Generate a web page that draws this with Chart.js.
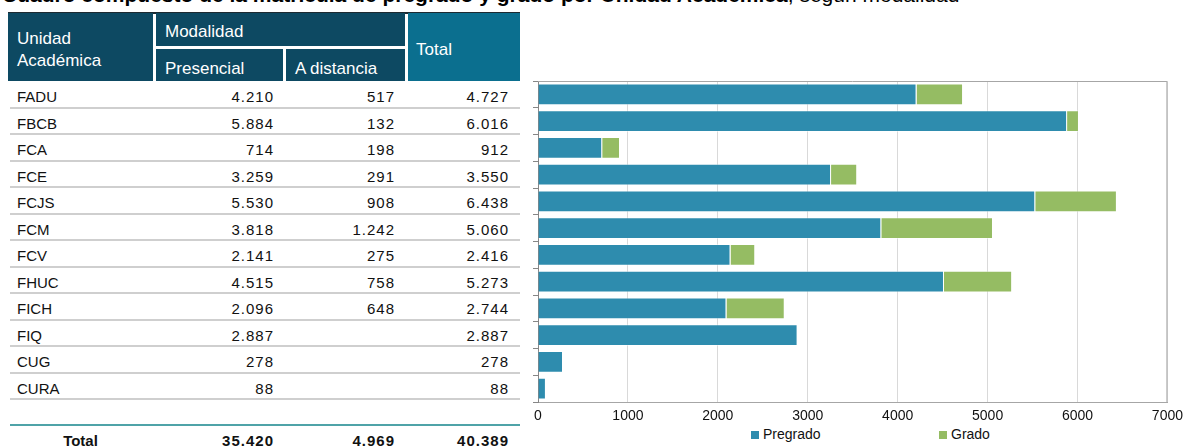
<!DOCTYPE html>
<html>
<head>
<meta charset="utf-8">
<script src="https://cdn.jsdelivr.net/npm/chart.js@4/dist/chart.umd.min.js"></script>
<style>
  body { margin: 0; width: 1189px; height: 447px; overflow: hidden; position: relative; background: #fff; font-family: "Liberation Sans", Arial, sans-serif; }
  .abs { position: absolute; white-space: nowrap; }
  .hd { position: absolute; background: #0d4962; }
  .hd.total { background: #0b6f8f; }
  .ht { position: absolute; color: #fff; font-size: 17px; line-height: 20px; white-space: nowrap; }
  .cell { position: absolute; font-size: 15px; line-height: 26.5px; color: #111; white-space: nowrap; }
  .num { letter-spacing: 1px; text-align: right; }
  .rowline { position: absolute; left: 10px; width: 510px; height: 2px; background: #cfcfcf; }
  .tot { font-weight: bold; }
  #legend { position: absolute; top: 425px; left: 0; width: 1189px; height: 18px; font-size: 14px; }
  .lg { position: absolute; top: 0; line-height: 18px; color: #111; }
  .lg i { display: inline-block; width: 8px; height: 8px; margin-right: 4px; vertical-align: 0px; }
</style>
</head>
<body>
<div class="abs" style="top:-17px;left:2px;font-size:21px;"><b>Cuadro compuesto de la matrícula de pregrado y grado por Unidad Académica</b>, según modalidad</div>
<div id="table"></div>
<canvas id="chart" width="661" height="347" style="position:absolute;left:528px;top:78px;"></canvas>
<div id="legend"></div>
<script>
// data
const unidades = ["FADU", "FBCB", "FCA", "FCE", "FCJS", "FCM", "FCV", "FHUC", "FICH", "FIQ", "CUG", "CURA"];
const presencial = [4210, 5884, 714, 3259, 5530, 3818, 2141, 4515, 2096, 2887, 278, 88];
const aDistancia = [517, 132, 198, 291, 908, 1242, 275, 758, 648, null, null, null];
const seriesNames = ["Pregrado", "Grado"];
const seriesColors = ["#2e8cae", "#95bc63"];
const xTicks = [0, 1000, 2000, 3000, 4000, 5000, 6000, 7000];

function fmt(n) {
  if (n === null || n === undefined) return "";
  return String(n).replace(/\B(?=(\d{3})+(?!\d))/g, ".");
}

// table
const tbl = document.getElementById("table");
function add(cls, style, text) {
  const d = document.createElement("div");
  d.className = cls;
  d.setAttribute("style", style);
  if (text !== undefined) d.textContent = text;
  tbl.appendChild(d);
  return d;
}
add("abs", "left:8px;top:12px;width:512px;height:2px;background:#1d2a31;");
add("hd", "left:8px;top:13px;width:145px;height:68px;");
add("hd", "left:156px;top:13px;width:249px;height:33px;");
add("hd", "left:156px;top:49px;width:127px;height:32px;");
add("hd", "left:286px;top:49px;width:119px;height:32px;");
add("hd total", "left:408px;top:13px;width:112px;height:68px;");
add("ht", "left:17px;top:29px;", "Unidad");
add("ht", "left:17px;top:51px;", "Académica");
add("ht", "left:165px;top:22px;", "Modalidad");
add("ht", "left:165px;top:59px;", "Presencial");
add("ht", "left:295px;top:59px;", "A distancia");
add("ht", "left:416px;top:40px;", "Total");

const rowH = 26.5;
const colRight = [273, 394, 508];
unidades.forEach((u, i) => {
  const top = 81 + rowH * i;
  const tot = presencial[i] + (aDistancia[i] || 0);
  add("cell", `left:17px;top:${top + 3}px;`, u);
  [presencial[i], aDistancia[i], tot].forEach((v, j) => {
    add("cell num", `right:${1189 - colRight[j] - 1}px;top:${top + 3}px;`, fmt(v));
  });
  add("rowline", `top:${top + rowH - 1}px;`);
});
add("abs", "left:10px;top:424px;width:510px;height:2px;background:#4fa3a8;");
const sumP = presencial.reduce((a, b) => a + b, 0);
const sumD = aDistancia.reduce((a, b) => a + (b || 0), 0);
add("cell tot", "left:8px;width:145px;text-align:center;top:427.5px;", "Total");
[sumP, sumD, sumP + sumD].forEach((v, j) => {
  add("cell num tot", `right:${1189 - colRight[j] - 1}px;top:427.5px;`, fmt(v));
});

// frame around plot area (top and right edges)
const frame = {
  id: "frame",
  afterDraw(chart) {
    const { ctx, chartArea: a } = chart;
    ctx.save();
    ctx.strokeStyle = "#a6a6a6";
    ctx.lineWidth = 1;
    ctx.beginPath();
    ctx.moveTo(a.left, a.top + 0.5);
    ctx.lineTo(a.right - 0.5, a.top + 0.5);
    ctx.lineTo(a.right - 0.5, a.bottom);
    ctx.stroke();
    ctx.restore();
  }
};

const chart = new Chart(document.getElementById("chart"), {
  type: "bar",
  data: {
    labels: unidades,
    datasets: [
      { label: seriesNames[0], data: presencial, backgroundColor: seriesColors[0], borderColor: "rgba(255,255,255,0.45)", borderWidth: 1 },
      { label: seriesNames[1], data: aDistancia, backgroundColor: seriesColors[1], borderColor: "rgba(255,255,255,0.45)", borderWidth: 1 }
    ]
  },
  options: {
    indexAxis: "y",
    responsive: false,
    animation: false,
    devicePixelRatio: 1,
    layout: { padding: { top: 3, right: 19, left: 0, bottom: 0 } },
    datasets: { bar: { categoryPercentage: 1, barPercentage: 0.82 } },
    plugins: { legend: { display: false }, tooltip: { enabled: false } },
    scales: {
      x: {
        stacked: true,
        min: 0,
        max: 7000,
        afterBuildTicks: (s) => { s.ticks = xTicks.map((v) => ({ value: v })); },
        afterFit: (s) => { s.height = 23; },
        grid: { color: "#d9d9d9", drawTicks: false },
        border: { color: "#a6a6a6" },
        ticks: {
          color: "#111",
          padding: 6,
          font: { family: "Liberation Sans", size: 14 },
          callback: (v) => String(v)
        }
      },
      y: {
        stacked: true,
        afterFit: (s) => { s.width = 10; },
        grid: { drawOnChartArea: false, drawTicks: true, tickLength: 5, color: "#868686", offset: true },
        border: { color: "#868686" },
        ticks: { display: false }
      }
    }
  },
  plugins: [frame]
});

// legend
const lg = document.getElementById("legend");
const lgLeft = [751, 939];
chart.data.datasets.forEach((ds, i) => {
  const d = document.createElement("div");
  d.className = "lg";
  d.style.left = lgLeft[i] + "px";
  d.innerHTML = `<i style="background:${ds.backgroundColor}"></i>${ds.label}`;
  lg.appendChild(d);
});
</script>
</body>
</html>
